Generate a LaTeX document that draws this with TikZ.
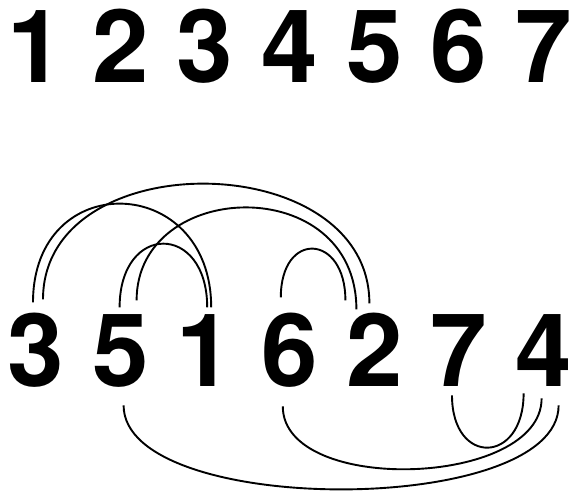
\documentclass[tikz,border=0pt]{standalone}
\usepackage{fontspec}
\setmainfont{TeX Gyre Heros}
\usetikzlibrary{positioning}

\begin{document}
\begin{tikzpicture}[x=1pt, y=1pt, node distance=24.2pt,
    digit/.style={font=\fontsize{101.5}{101.5}\selectfont\bfseries, inner sep=0pt, minimum width=60pt, text height=75pt, text depth=0pt},
    arcline/.style={line width=1.9pt}]
  \useasboundingbox (0,0) rectangle (572,491);
  % the identity
  \node[digit, anchor=south] (t1) at (36,408) {1};
  \node[digit, right=of t1] (t2) {2};
  \node[digit, right=of t2] (t3) {3};
  \node[digit, right=of t3] (t4) {4};
  \node[digit, right=of t4] (t5) {5};
  \node[digit, right=of t5] (t6) {6};
  \node[digit, right=of t6] (t7) {7};
  % the permutation
  \node[digit, below=228pt of t1] (n3) {3};
  \node[digit, right=of n3] (n5) {5};
  \node[digit, right=of n5] (n1) {1};
  \node[digit, right=of n1] (n6) {6};
  \node[digit, right=of n6] (n2) {2};
  \node[digit, right=of n2] (n7) {7};
  \node[digit, right=of n7] (n4) {4};
  % arcs above
  \draw[arcline] ([shift={(-3,84)}]n3.south) .. controls +(0,135) and +(0,135) .. ([shift={(6,79)}]n1.south);
  \draw[arcline] ([shift={(7,87)}]n3.south) .. controls +(0,157) and +(0,157) .. ([shift={(-5,83)}]n2.south);
  \draw[arcline] ([shift={(-1,79)}]n5.south) .. controls +(0,85) and +(0,85) .. ([shift={(2,79)}]n1.south);
  \draw[arcline] ([shift={(16,86)}]n5.south) .. controls +(0,122) and +(0,138) .. ([shift={(-18,77)}]n2.south);
  \draw[arcline] ([shift={(-9,89)}]n6.south) .. controls +(0,67) and +(0,67) .. ([shift={(-29,86)}]n2.south);
  % arcs below
  \draw[arcline] ([shift={(3,-19)}]n5.south) .. controls +(0,-112) and +(0,-112) .. ([shift={(15,-19)}]n4.south);
  \draw[arcline] ([shift={(-7,-20)}]n6.south) .. controls +(0,-89) and +(0,-89) .. ([shift={(-2,-12)}]n4.south);
  \draw[arcline] ([shift={(-7,-9)}]n7.south) .. controls +(0,-71) and +(0,-71) .. ([shift={(-20,-7)}]n4.south);
\end{tikzpicture}
\end{document}
